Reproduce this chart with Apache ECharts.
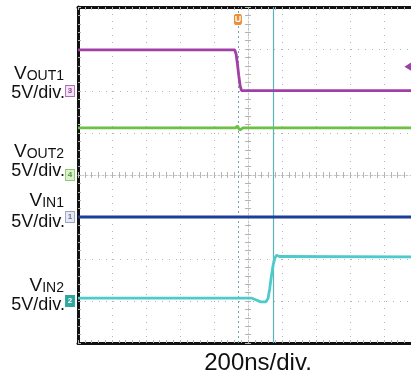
<!DOCTYPE html>
<html>
<head>
<meta charset="utf-8">
<script src="https://cdn.jsdelivr.net/npm/echarts@6/dist/echarts.min.js"></script>
<style>
  html, body { margin: 0; padding: 0; background: #fff; }
  #chart { width: 411px; height: 375px; }
</style>
</head>
<body>
<div id="chart"></div>
<script>
// scope capture: 200ns/div horizontally, 5V/div per channel, 8 vertical divs
const tMin = -1000
const tMax = 959
const tDiv = 200

// trace points (time in ns, level in V)
const vout1Time = [-1000, -78, -70, -62, -54, -46, -38, 959]
const vout1Volt = [4.9, 4.9, 4.4, 3.2, 1.8, 0.6, 0.05, 0.05]

const vout2Time = [-1000, -72, -62, -56, -48, -40, -30, 959]
const vout2Volt = [5.6, 5.6, 5.85, 5.6, 5.35, 5.5, 5.6, 5.6]

const vin1Time = [-1000, 959]
const vin1Volt = [0, 0]

const vin2Time = [-1000, 20, 45, 75, 105, 118, 128, 138, 148, 158, 168, 185, 959]
const vin2Volt = [0.35, 0.35, 0.15, -0.1, -0.1, 0.3, 1.5, 3.0, 4.3, 5.1, 5.45, 5.3, 5.25]

// cursors / markers
const triggerTime = -59
const cursorTime = 147
const trigLevelTime = 941
const trigLevelVolt = 2.9

const chNames = ['VOUT1', 'VOUT2', 'VIN1', 'VIN2']
const chSubs = ['OUT1', 'OUT2', 'IN1', 'IN2']
const chTags = ['3', '4', '1', '2']
const chOffsetDiv = [2, 0, -1, -3]

const FONT = "'Liberation Sans', Arial, sans-serif"
const grey = '#b4b4b4'
const dotted = { color: grey, width: 1, type: [1, 6] }

function pairs(ts, vs) { return ts.map((t, i) => [t, vs[i]]) }

const chart = echarts.init(document.getElementById('chart'))

const xBase = { type: 'value', min: tMin, max: tMax, interval: tDiv, axisLabel: { show: false }, splitLine: { show: false } }
const yBase = { type: 'value', min: -4, max: 4, interval: 1, axisLabel: { show: false }, splitLine: { show: false } }
const tickStyle = { color: grey, width: 1 }

const xAxis = [
  { ...xBase, position: 'bottom', axisLine: { onZero: false, lineStyle: { color: '#111', width: 3 } },
    axisTick: { show: true, inside: true, length: 3, lineStyle: tickStyle },
    minorTick: { show: true, splitNumber: 5, length: 3, lineStyle: tickStyle },
    splitLine: { show: true, lineStyle: dotted } },
  { ...xBase, position: 'top', axisLine: { onZero: false, lineStyle: { color: '#111', width: 3 } },
    axisTick: { show: true, inside: true, length: 3, lineStyle: tickStyle },
    minorTick: { show: true, splitNumber: 5, length: 3, lineStyle: tickStyle } },
  { ...xBase, position: 'bottom', axisLine: { onZero: true, onZeroAxisIndex: 0, lineStyle: { color: '#c8c8c8', width: 1, type: [2, 2] } },
    axisTick: { show: true, length: 3, lineStyle: tickStyle },
    minorTick: { show: true, splitNumber: 5, length: 3, lineStyle: tickStyle } },
  { ...xBase, position: 'top', axisLine: { onZero: true, onZeroAxisIndex: 0, show: false },
    axisTick: { show: true, length: 3, lineStyle: tickStyle },
    minorTick: { show: true, splitNumber: 5, length: 3, lineStyle: tickStyle } }
]

const yAxis = [
  { ...yBase, position: 'left', axisLine: { onZero: false, lineStyle: { color: '#111', width: 3 } },
    axisTick: { show: true, inside: true, length: 3, lineStyle: tickStyle },
    minorTick: { show: true, splitNumber: 5, length: 3, lineStyle: tickStyle },
    splitLine: { show: true, lineStyle: dotted } },
  { ...yBase, position: 'left', axisLine: { onZero: true, onZeroAxisIndex: 0, lineStyle: { color: '#c8c8c8', width: 1, type: [2, 2] } },
    axisTick: { show: true, length: 3, lineStyle: tickStyle },
    minorTick: { show: true, splitNumber: 5, length: 3, lineStyle: tickStyle } },
  { ...yBase, position: 'right', axisLine: { onZero: true, onZeroAxisIndex: 0, show: false },
    axisTick: { show: true, length: 3, lineStyle: tickStyle },
    minorTick: { show: true, splitNumber: 5, length: 3, lineStyle: tickStyle } }
]
// one hidden volt axis per channel, ground placed at its offset
chOffsetDiv.forEach(o => {
  yAxis.push({ type: 'value', show: false, min: (-4 - o) * 5, max: (4 - o) * 5 })
})

const colors = ['#a040a6', '#6cc043', '#1c3d98', '#4ec9cc']
const tagStyle = [
  { fill: '#f1e2f4', border: '#a870b0', text: '#a040a6' },
  { fill: '#dcf1d0', border: '#8acb6a', text: '#4f9a30' },
  { fill: '#e8eaf2', border: '#9aa2c4', text: '#6a74a8' },
  { fill: '#2fa79f', border: '#2fa79f', text: '#ffffff' }
]
const traces = [pairs(vout1Time, vout1Volt), pairs(vout2Time, vout2Volt), pairs(vin1Time, vin1Volt), pairs(vin2Time, vin2Volt)]

const series = traces.map((d, i) => ({
  name: chNames[i],
  type: 'line',
  xAxisIndex: 0,
  yAxisIndex: 3 + i,
  data: d,
  symbol: 'none',
  clip: false,
  z: 5 + i,
  lineStyle: { color: colors[i], width: 2.8 },
  markPoint: {
    symbol: 'rect', symbolSize: [9, 11], symbolOffset: [-8, 0], silent: true,
    itemStyle: { color: tagStyle[i].fill, borderColor: tagStyle[i].border, borderWidth: 1 },
    label: { show: true, formatter: chTags[i], color: tagStyle[i].text, fontSize: 8, fontFamily: FONT, fontWeight: 'bold' },
    data: [{ coord: [tMin, 0] }]
  }
}))

// trigger level arrow on VOUT1
series.push({
  type: 'line', xAxisIndex: 0, yAxisIndex: 3, data: [], clip: false, silent: true,
  markPoint: {
    symbol: 'triangle', symbolSize: [9, 7], symbolRotate: 90, silent: true,
    itemStyle: { color: colors[0] }, label: { show: false },
    data: [{ coord: [trigLevelTime, trigLevelVolt] }]
  }
})

// trigger position and cursor lines
series.push({
  type: 'line', xAxisIndex: 0, yAxisIndex: 0, data: [], clip: false, silent: true, z: 3,
  markLine: {
    symbol: 'none', silent: true, label: { show: false },
    data: [
      { xAxis: triggerTime, lineStyle: { color: '#6fa3a8', width: 1, type: [2, 3] } },
      { xAxis: cursorTime, lineStyle: { color: '#5bb5b5', width: 1.2, type: 'solid' } }
    ]
  },
  markPoint: {
    symbol: 'roundRect', symbolSize: [8, 11], silent: true,
    itemStyle: { color: '#ef8f35' },
    label: { show: true, formatter: 'U', color: '#fff', fontSize: 9, fontWeight: 'bold', fontFamily: FONT },
    data: [{ coord: [triggerTime, 3.7] }]
  }
})

// channel captions left of the screen
const capY = [73.5, 151.5, 200, 285]
const scaleY = [93.5, 171.5, 222, 305]
const graphic = []
chNames.forEach((n, i) => {
  graphic.push({
    type: 'text', x: 64, y: capY[i],
    style: {
      text: '{v|V}{s|' + chSubs[i] + '}', align: 'right', verticalAlign: 'middle', fill: '#111',
      rich: {
        v: { fontSize: 19, lineHeight: 20, verticalAlign: 'bottom', fontFamily: FONT, fill: '#111' },
        s: { fontSize: 14, lineHeight: 12, verticalAlign: 'bottom', fontFamily: FONT, fill: '#111' }
      }
    }
  })
  graphic.push({
    type: 'text', x: 65, y: scaleY[i],
    style: { text: '5V/div.', align: 'right', verticalAlign: 'middle', fontSize: 18, fontFamily: FONT, fill: '#111' }
  })
})
graphic.push({
  type: 'text', x: 258, y: 363,
  style: { text: '200ns/div.', align: 'center', verticalAlign: 'middle', fontSize: 24, fontFamily: FONT, fill: '#111' }
})

chart.setOption({
  animation: false,
  backgroundColor: '#fff',
  grid: { left: 78, right: 0, top: 7, bottom: 32 },
  xAxis, yAxis, series, graphic
})
</script>
</body>
</html>
